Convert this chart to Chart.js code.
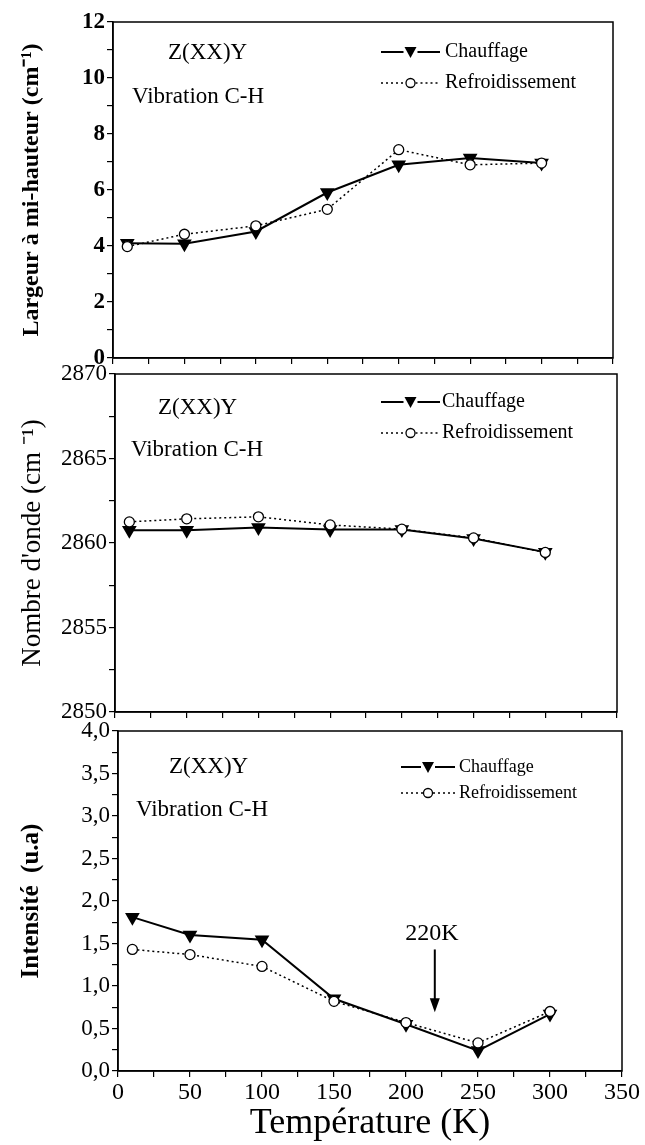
<!DOCTYPE html>
<html>
<head>
<meta charset="utf-8">
<script src="https://cdn.jsdelivr.net/npm/chart.js@4.4.1/dist/chart.umd.min.js"></script>
<style>
  html, body { margin: 0; padding: 0; background: #fff; }
  #wrap { position: relative; width: 645px; height: 1145px; }
  #wrap canvas { position: absolute; left: 0; top: 0; }
</style>
</head>
<body>
<div id="wrap">
  <canvas id="c1" width="645" height="1145"></canvas>
  <canvas id="c2" width="645" height="1145"></canvas>
  <canvas id="c3" width="645" height="1145"></canvas>
</div>
<script>
/* ==== DONNEES ==== */
const temperatures = [10, 50, 100, 150, 200, 250, 300];
const seriesNames = ["Chauffage", "Refroidissement"];

// largeur a mi-hauteur (cm-1)
const largeurChauffage = [4.1, 4.08, 4.52, 5.91, 6.9, 7.14, 6.96];
const largeurRefroid   = [3.98, 4.42, 4.72, 5.31, 7.44, 6.9, 6.96];

// nombre d'onde (cm-1)
const ondeChauffage = [2860.76, 2860.76, 2860.92, 2860.8, 2860.8, 2860.26, 2859.46];
const ondeRefroid   = [2861.25, 2861.43, 2861.55, 2861.07, 2860.82, 2860.3, 2859.44];

// intensite (u.a)
const intensChauffage = [1.81, 1.6, 1.545, 0.85, 0.55, 0.24, 0.67];
const intensRefroid   = [1.43, 1.37, 1.23, 0.82, 0.57, 0.33, 0.70];

const xMin = 0, xMax = 350, xMinor = 25, xMajor = 50;
const transitionT = 220;

/* ==== STYLE ==== */
const SERIF = '"Liberation Serif", "Times New Roman", serif';
const W = 645, H = 1145;

const isMajor = (v, step) => Math.abs(v / step - Math.round(v / step)) < 1e-6;

function pts(ys) { return temperatures.map((t, i) => ({ x: t, y: ys[i] })); }

function makeDatasets(ch, re) {
  return [
    { label: seriesNames[0], data: pts(ch), borderColor: '#000', borderWidth: 2,
      pointStyle: 'triangle', rotation: 180, pointRadius: 6.5,
      pointBackgroundColor: '#000', pointBorderColor: '#000', tension: 0, order: 2 },
    { label: seriesNames[1], data: pts(re), borderColor: '#000', borderWidth: 1.5,
      borderDash: [2, 3], pointStyle: 'circle', pointRadius: 5,
      pointBackgroundColor: '#fff', pointBorderColor: '#000', pointBorderWidth: 1.3,
      tension: 0, order: 1 }
  ];
}

/* ==== PLUGIN : cadre, textes, legende, fleche ==== */
const overlay = {
  id: 'overlay',
  afterDatasetsDraw(chart, args, o) {
    const ctx = chart.ctx, a = chart.chartArea;
    ctx.save();
    // cadre
    ctx.strokeStyle = '#000'; ctx.lineWidth = 1.5;
    ctx.strokeRect(a.left, a.top, a.right - a.left, a.bottom - a.top);

    ctx.fillStyle = '#000';
    ctx.textBaseline = 'middle'; ctx.textAlign = 'left';
    ctx.font = o.labelFont + 'px ' + SERIF;
    ctx.fillText('Z(XX)Y', a.left + o.zx, a.top + o.zy);
    ctx.fillText('Vibration C-H', a.left + o.vx, a.top + o.vy);

    // legende
    const lx0 = a.left + o.lx0, lx1 = a.left + o.lx1, mid = (lx0 + lx1) / 2;
    const r1 = a.top + o.ly1, r2 = a.top + o.ly2;
    ctx.lineWidth = 2; ctx.setLineDash([]);
    ctx.beginPath(); ctx.moveTo(lx0, r1); ctx.lineTo(mid - 7, r1);
    ctx.moveTo(mid + 7, r1); ctx.lineTo(lx1, r1); ctx.stroke();
    ctx.beginPath(); ctx.moveTo(mid - 6, r1 - 5); ctx.lineTo(mid + 6, r1 - 5);
    ctx.lineTo(mid, r1 + 6); ctx.closePath(); ctx.fill();

    ctx.lineWidth = 1.3; ctx.setLineDash([2, 3]);
    ctx.beginPath(); ctx.moveTo(lx0, r2); ctx.lineTo(mid - 5, r2);
    ctx.moveTo(mid + 5, r2); ctx.lineTo(lx1, r2); ctx.stroke();
    ctx.setLineDash([]);
    ctx.beginPath(); ctx.arc(mid, r2, 4.5, 0, Math.PI * 2);
    ctx.fillStyle = '#fff'; ctx.fill(); ctx.stroke();

    ctx.fillStyle = '#000';
    ctx.font = o.legendFont + 'px ' + SERIF;
    ctx.fillText(seriesNames[0], a.left + o.tx, r1);
    ctx.fillText(seriesNames[1], a.left + o.tx, r2);

    // fleche 220K
    if (o.arrow) {
      const xs = chart.scales.x, ys = chart.scales.y;
      const ax = xs.getPixelForValue(transitionT);
      const yTop = ys.getPixelForValue(1.43), yTip = ys.getPixelForValue(0.69);
      ctx.lineWidth = 2;
      ctx.beginPath(); ctx.moveTo(ax, yTop); ctx.lineTo(ax, yTip - 12); ctx.stroke();
      ctx.beginPath(); ctx.moveTo(ax - 5, yTip - 14); ctx.lineTo(ax + 5, yTip - 14);
      ctx.lineTo(ax, yTip); ctx.closePath(); ctx.fill();
      ctx.textAlign = 'center';
      ctx.font = '24px ' + SERIF;
      ctx.fillText(transitionT + 'K', xs.getPixelForValue(218), ys.getPixelForValue(1.62));
    }
    ctx.restore();
  }
};

/* ==== CONSTRUCTION D'UN PANNEAU ==== */
function makePanel(id, p) {
  const tickCol = '#000';
  return new Chart(document.getElementById(id), {
    type: 'line',
    data: { datasets: makeDatasets(p.ch, p.re) },
    plugins: [overlay],
    options: {
      responsive: false, animation: false, devicePixelRatio: 1,
      layout: { padding: { left: 0, top: p.area[1], right: W - p.area[2], bottom: H - p.area[3] - p.xh } },
      plugins: { legend: { display: false }, tooltip: { enabled: false }, overlay: p.ov },
      scales: {
        x: {
          type: 'linear', min: xMin, max: xMax,
          afterFit: s => { s.height = p.xh; },
          border: { display: true, color: '#000', width: 1.5 },
          grid: { drawOnChartArea: false, drawTicks: true, tickLength: 6, color: tickCol, lineWidth: 1.2 },
          ticks: { stepSize: xMinor, autoSkip: false, maxRotation: 0, color: '#000', padding: 1,
                   font: { family: SERIF, size: 24 },
                   callback: v => (p.xLabels && isMajor(v, xMajor)) ? String(v) : '' },
          title: p.xLabels ? { display: true, text: 'Température (K)', color: '#000',
                   font: { family: SERIF, size: 36 }, padding: { top: 0, bottom: 0 } } : { display: false }
        },
        y: {
          min: p.yMin, max: p.yMax,
          afterFit: s => { s.width = p.area[0]; },
          border: { display: true, color: '#000', width: 1.5 },
          grid: { drawOnChartArea: false, drawTicks: true, tickLength: 6, color: tickCol, lineWidth: 1.2 },
          ticks: { stepSize: p.yMinor, autoSkip: false, color: '#000', padding: 2,
                   font: { family: SERIF, size: p.tickSize, weight: p.tickBold ? 'bold' : 'normal' },
                   callback: v => isMajor(v, p.yMajor) ? p.fmt(v) : '' },
          title: { display: true, text: p.yTitle, color: '#000',
                   font: { family: SERIF, size: p.titleSize, weight: p.titleBold ? 'bold' : 'normal' },
                   padding: { top: 17, bottom: 0 } }
        }
      }
    }
  });
}

makePanel('c1', {
  ch: largeurChauffage, re: largeurRefroid,
  area: [113, 22, 613, 358], xh: 10, xLabels: false,
  yMin: 0, yMax: 12, yMinor: 1, yMajor: 2, fmt: v => String(v),
  tickSize: 23, tickBold: true, titleSize: 24, titleBold: true,
  yTitle: 'Largeur à mi-hauteur (cm⁻¹)',
  ov: { labelFont: 23, legendFont: 20, zx: 55, zy: 31, vx: 19, vy: 75,
        lx0: 268, lx1: 327, ly1: 30, ly2: 61, tx: 332 }
});

makePanel('c2', {
  ch: ondeChauffage, re: ondeRefroid,
  area: [115, 374, 617, 712], xh: 10, xLabels: false,
  yMin: 2850, yMax: 2870, yMinor: 2.5, yMajor: 5, fmt: v => String(v),
  tickSize: 23, tickBold: false, titleSize: 27, titleBold: false,
  yTitle: "Nombre d'onde (cm ⁻¹)",
  ov: { labelFont: 23, legendFont: 20, zx: 43, zy: 34, vx: 16, vy: 76,
        lx0: 266, lx1: 325, ly1: 28, ly2: 59, tx: 327 }
});

makePanel('c3', {
  ch: intensChauffage, re: intensRefroid,
  area: [118, 731, 622, 1071], xh: 74, xLabels: true,
  yMin: 0, yMax: 4, yMinor: 0.25, yMajor: 0.5, fmt: v => v.toFixed(1).replace('.', ','),
  tickSize: 23, tickBold: false, titleSize: 25, titleBold: true,
  yTitle: 'Intensité  (u.a)',
  ov: { labelFont: 23, legendFont: 18, zx: 51, zy: 36, vx: 18, vy: 79,
        lx0: 283, lx1: 337, ly1: 36, ly2: 62, tx: 341, arrow: true }
});
</script>
</body>
</html>
